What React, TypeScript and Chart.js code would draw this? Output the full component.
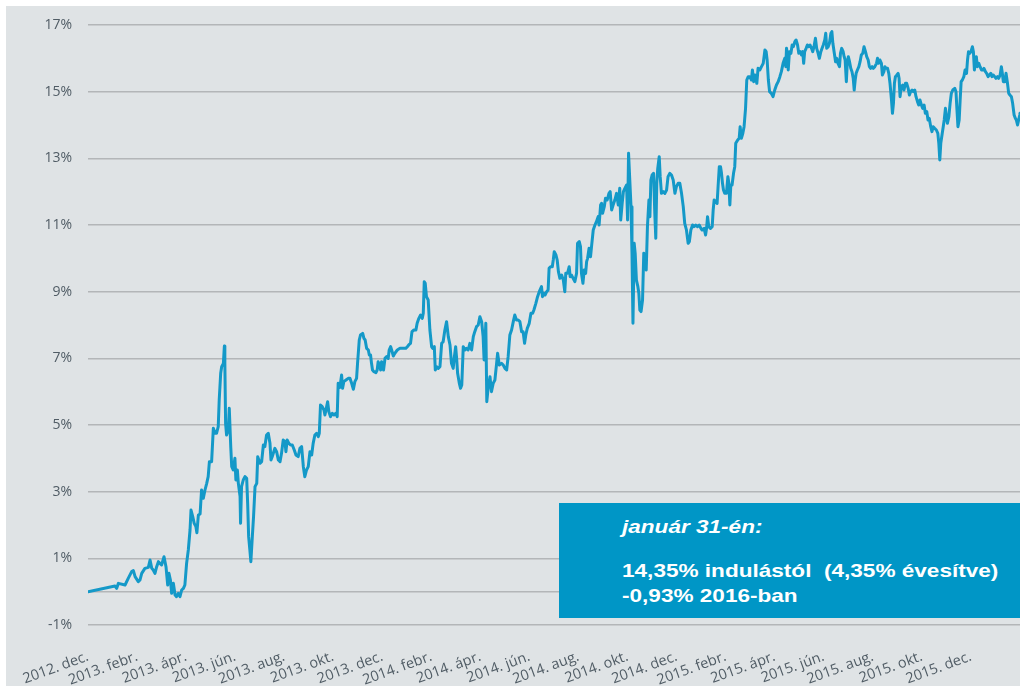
import { useEffect, useRef } from "react";
import { Chart, registerables } from "chart.js";

Chart.register(...registerables);

// x axis: months since the start of December 2012
const xTickLabels = [
  "2012. dec.", "2013. febr.", "2013. ápr.", "2013. jún.", "2013. aug.", "2013. okt.", "2013. dec.",
  "2014. febr.", "2014. ápr.", "2014. jún.", "2014. aug.", "2014. okt.", "2014. dec.",
  "2015. febr.", "2015. ápr.", "2015. jún.", "2015. aug.", "2015. okt.", "2015. dec.",
];
const xTickMonths = [0, 2, 4, 6, 8, 10, 12, 14, 16, 18, 20, 22, 24, 26, 28, 30, 32, 34, 36];
const yTicks = [-1, 1, 3, 5, 7, 9, 11, 13, 15, 17];

// [month since 2012-12-01, cumulative return %]
const returns2013: [number, number][] = [
  [0.0, 0.0], [1.1, 0.17], [1.17, 0.1], [1.24, 0.25], [1.51, 0.2], [1.64, 0.4], [1.78, 0.6], [1.85, 0.63],
  [1.92, 0.45], [2.05, 0.3], [2.12, 0.35], [2.19, 0.55], [2.32, 0.7], [2.46, 0.73], [2.53, 0.95], [2.6, 0.7],
  [2.66, 0.65], [2.73, 0.55], [2.8, 0.75], [2.87, 0.9], [2.93, 0.85], [3.0, 0.8], [3.1, 1.05], [3.18, 0.75],
  [3.25, 0.2], [3.3, 0.55], [3.36, 0.35], [3.41, -0.05], [3.48, 0.25], [3.55, -0.1], [3.61, -0.15], [3.68, -0.05],
  [3.75, -0.15], [3.82, 0.05], [3.89, 0.1], [3.95, 0.2], [4.02, 0.85], [4.09, 1.25], [4.16, 1.85], [4.2, 2.45],
  [4.27, 2.25], [4.33, 2.05], [4.4, 1.95], [4.44, 1.77], [4.5, 2.3], [4.57, 2.33], [4.63, 3.05], [4.7, 2.8],
  [4.77, 3.05], [4.84, 3.25], [4.9, 3.45], [4.95, 3.9], [5.04, 3.9], [5.11, 4.9], [5.18, 4.75], [5.24, 4.75],
  [5.31, 4.95], [5.35, 5.75], [5.41, 6.55], [5.45, 6.75], [5.52, 6.85], [5.56, 7.37], [5.58, 6.85], [5.61, 5.05],
  [5.65, 4.7], [5.72, 4.85], [5.76, 5.5], [5.82, 4.35], [5.86, 3.75], [5.92, 3.65], [5.99, 4.0], [6.03, 3.35],
  [6.09, 3.65], [6.13, 3.25], [6.2, 2.85], [6.22, 2.05], [6.26, 3.15], [6.33, 3.35], [6.4, 3.45], [6.47, 3.4],
  [6.51, 2.65], [6.55, 1.65], [6.6, 1.25], [6.64, 0.9], [6.7, 1.65], [6.75, 2.25], [6.81, 3.15], [6.88, 3.25],
  [6.92, 4.05], [7.01, 3.85], [7.08, 3.9], [7.15, 4.4], [7.21, 4.35], [7.28, 4.7], [7.35, 4.75], [7.42, 4.45],
  [7.46, 3.95], [7.51, 4.05], [7.62, 4.3], [7.69, 4.2], [7.76, 3.95], [7.83, 3.9], [7.89, 4.15], [7.96, 4.55],
  [8.03, 4.5], [8.07, 4.2], [8.12, 4.55], [8.19, 4.45], [8.26, 4.4], [8.33, 4.4], [8.41, 4.25], [8.48, 4.1],
  [8.57, 4.05], [8.64, 4.3], [8.71, 4.35], [8.78, 3.75], [8.84, 3.45], [8.91, 3.65], [8.98, 3.75], [9.05, 4.2],
  [9.12, 4.1], [9.18, 4.45], [9.25, 4.7], [9.32, 4.75], [9.39, 4.65], [9.43, 4.75], [9.48, 5.6], [9.55, 5.55],
  [9.62, 5.45], [9.66, 5.3], [9.73, 5.55], [9.77, 5.7], [9.82, 5.4], [9.89, 5.25], [9.96, 5.35], [10.03, 5.3],
  [10.1, 5.35], [10.16, 5.25], [10.2, 6.25], [10.27, 6.13], [10.34, 6.5], [10.38, 6.1], [10.43, 6.3], [10.52, 6.35],
  [10.61, 6.4], [10.68, 6.4], [10.75, 6.25], [10.82, 6.07], [10.88, 6.3], [10.95, 6.4], [10.99, 6.85], [11.06, 7.55],
  [11.11, 7.7], [11.2, 7.75], [11.25, 7.6], [11.3, 7.55], [11.36, 7.3], [11.43, 7.25], [11.47, 7.1], [11.52, 7.1],
  [11.56, 6.85], [11.6, 6.65], [11.66, 6.6], [11.74, 6.57], [11.79, 6.65], [11.83, 6.9], [11.88, 6.8], [11.93, 6.65],
  [11.97, 6.9], [12.01, 6.85], [12.05, 6.65], [12.11, 7.0], [12.17, 7.05], [12.24, 7.0], [12.28, 7.25], [12.34, 7.35],
  [12.38, 7.25], [12.45, 7.07], [12.51, 7.15], [12.61, 7.25], [12.72, 7.3], [12.85, 7.3], [12.96, 7.3],
];

const returns2014: [number, number][] = [
  [13.02, 7.35], [13.1, 7.42], [13.15, 7.45], [13.21, 7.8], [13.29, 7.85], [13.37, 7.85], [13.42, 8.05], [13.49, 8.2],
  [13.56, 8.3], [13.63, 8.2], [13.67, 8.35], [13.71, 9.3], [13.75, 9.25], [13.8, 8.85], [13.87, 8.75], [13.94, 7.85],
  [14.01, 7.35], [14.05, 7.3], [14.12, 7.35], [14.16, 6.65], [14.21, 6.75], [14.28, 6.7], [14.35, 6.75], [14.42, 7.45],
  [14.48, 7.5], [14.55, 7.85], [14.62, 8.1], [14.69, 7.65], [14.76, 7.4], [14.82, 6.85], [14.89, 6.7], [14.93, 7.0],
  [14.99, 7.35], [15.03, 7.0], [15.07, 6.55], [15.14, 6.25], [15.19, 6.1], [15.24, 6.2], [15.3, 7.35], [15.37, 7.25],
  [15.43, 7.3], [15.5, 7.25], [15.57, 7.45], [15.64, 7.25], [15.71, 7.65], [15.77, 7.8], [15.84, 7.95], [15.91, 8.0],
  [15.98, 8.25], [16.05, 8.1], [16.11, 7.65], [16.15, 6.95], [16.18, 7.35], [16.22, 8.05], [16.26, 5.7], [16.32, 6.15],
  [16.39, 6.45], [16.45, 6.0], [16.52, 6.25], [16.59, 6.35], [16.66, 6.85], [16.7, 7.15], [16.77, 6.8], [16.86, 6.85],
  [16.93, 6.8], [17.0, 6.7], [17.07, 6.65], [17.13, 7.05], [17.2, 7.7], [17.27, 7.85], [17.34, 8.1], [17.4, 8.3],
  [17.47, 8.15], [17.54, 8.15], [17.61, 8.1], [17.68, 7.8], [17.74, 7.8], [17.8, 7.45], [17.85, 7.7], [17.91, 7.9],
  [17.99, 8.05], [18.06, 8.35], [18.13, 8.35], [18.18, 8.45], [18.26, 8.65], [18.33, 8.85], [18.4, 9.0], [18.49, 9.15],
  [18.53, 8.85], [18.59, 8.95], [18.64, 8.9], [18.7, 9.0], [18.76, 9.05], [18.8, 9.7], [18.86, 9.75], [18.93, 9.75],
  [18.97, 9.95], [19.01, 10.2], [19.08, 10.1], [19.13, 9.95], [19.18, 9.6], [19.24, 9.4], [19.31, 9.5], [19.38, 9.35],
  [19.44, 9.0], [19.48, 9.55], [19.55, 9.55], [19.62, 9.75], [19.66, 9.45], [19.71, 9.5], [19.78, 9.4], [19.85, 9.3],
  [19.92, 9.55], [19.96, 10.45], [20.03, 10.5], [20.08, 10.35], [20.12, 9.55], [20.18, 9.25], [20.23, 9.65], [20.29, 9.55],
  [20.33, 9.9], [20.37, 10.0], [20.43, 10.3], [20.49, 10.05], [20.53, 10.35], [20.6, 10.85], [20.67, 11.0], [20.73, 11.1],
  [20.8, 11.25], [20.84, 11.0], [20.9, 11.6], [20.94, 11.65], [20.98, 11.35], [21.05, 11.55], [21.1, 11.8], [21.17, 11.75],
  [21.24, 11.95], [21.29, 12.0], [21.35, 11.45], [21.41, 11.6], [21.48, 11.75], [21.55, 11.95], [21.62, 11.6], [21.68, 12.1],
  [21.72, 11.15], [21.78, 11.65], [21.83, 12.0], [21.89, 12.1], [21.96, 12.2], [22.0, 11.15], [22.04, 13.15], [22.09, 12.35],
  [22.14, 11.55], [22.18, 10.15], [22.22, 8.05], [22.27, 10.45], [22.31, 10.15], [22.36, 9.35], [22.42, 9.15], [22.46, 8.95],
  [22.5, 8.45], [22.55, 8.4], [22.61, 8.75], [22.66, 10.15], [22.7, 9.95], [22.76, 9.65], [22.81, 10.95], [22.87, 11.75],
  [22.91, 11.25], [22.95, 12.35], [23.0, 12.5], [23.06, 12.55], [23.11, 11.35], [23.15, 10.6], [23.19, 12.25], [23.23, 12.7],
  [23.29, 13.05], [23.33, 12.45], [23.38, 11.95], [23.45, 12.0], [23.52, 11.95], [23.59, 12.05], [23.65, 12.45], [23.72, 12.55],
  [23.79, 12.5], [23.86, 12.35], [23.93, 11.95], [23.99, 12.15], [24.06, 12.25], [24.13, 12.25], [24.2, 11.95], [24.27, 11.55],
  [24.33, 11.05], [24.4, 10.85], [24.47, 10.45], [24.52, 10.5], [24.58, 10.85], [24.65, 11.0], [24.71, 10.95], [24.78, 11.0],
  [24.85, 10.95], [24.92, 11.0], [24.99, 10.9],
];

const returns2015: [number, number][] = [
  [25.04, 10.85], [25.12, 10.9], [25.18, 10.7], [25.22, 10.9], [25.26, 11.25], [25.31, 10.95], [25.38, 10.9], [25.45, 10.95],
  [25.49, 11.45], [25.53, 11.75], [25.58, 11.7], [25.65, 11.65], [25.69, 12.15], [25.74, 12.75], [25.79, 12.75], [25.83, 12.55],
  [25.87, 12.25], [25.91, 12.05], [25.96, 11.95], [26.03, 11.95], [26.09, 12.45], [26.13, 12.25], [26.17, 11.6], [26.21, 12.2],
  [26.26, 12.2], [26.32, 12.55], [26.37, 12.75], [26.41, 13.45], [26.49, 13.55], [26.55, 13.6], [26.59, 13.95], [26.64, 13.6],
  [26.7, 13.75], [26.75, 13.95], [26.81, 14.5], [26.86, 15.35], [26.92, 15.45], [26.98, 15.45], [27.05, 15.35], [27.09, 15.65],
  [27.14, 15.3], [27.19, 15.5], [27.27, 15.25], [27.32, 15.7], [27.39, 15.65], [27.46, 15.75], [27.53, 15.85], [27.6, 16.25],
  [27.65, 16.2], [27.69, 15.95], [27.74, 15.35], [27.79, 15.0], [27.86, 14.95], [27.93, 14.85], [28.0, 15.05], [28.07, 15.2],
  [28.14, 15.3], [28.21, 15.45], [28.27, 15.6], [28.34, 15.85], [28.41, 16.0], [28.45, 15.75], [28.48, 16.3], [28.51, 16.15],
  [28.55, 15.65], [28.6, 16.2], [28.66, 16.15], [28.71, 16.4], [28.76, 16.35], [28.82, 16.5], [28.87, 16.55], [28.93, 16.4],
  [28.98, 16.15], [29.04, 16.2], [29.09, 16.1], [29.14, 16.2], [29.18, 15.85], [29.22, 16.2], [29.28, 16.3], [29.33, 16.4],
  [29.39, 16.35], [29.44, 16.4], [29.5, 16.3], [29.55, 16.2], [29.6, 16.35], [29.66, 16.6], [29.71, 16.3], [29.77, 16.15],
  [29.82, 16.0], [29.88, 16.2], [29.93, 16.3], [29.98, 16.4], [30.04, 16.55], [30.08, 16.75], [30.12, 16.3], [30.18, 16.35],
  [30.23, 16.45], [30.29, 16.75], [30.33, 16.8], [30.37, 16.45], [30.42, 16.2], [30.48, 15.9], [30.53, 16.0], [30.58, 15.85],
  [30.64, 15.75], [30.68, 16.15], [30.73, 16.3], [30.79, 16.2], [30.83, 16.05], [30.87, 15.95], [30.92, 15.3], [30.96, 15.9],
  [31.0, 16.05], [31.05, 15.9], [31.1, 15.7], [31.15, 15.6], [31.2, 15.4], [31.24, 15.05], [31.28, 15.35], [31.32, 15.55],
  [31.37, 15.65], [31.43, 15.75], [31.48, 15.9], [31.53, 16.1], [31.59, 16.15], [31.64, 16.35], [31.7, 16.2], [31.75, 16.05],
  [31.81, 15.95], [31.86, 15.75], [31.91, 15.7], [31.97, 15.75], [32.02, 15.7], [32.08, 15.75], [32.15, 15.85], [32.19, 16.0],
  [32.24, 15.85], [32.29, 15.95], [32.35, 15.85], [32.39, 15.5], [32.45, 15.6], [32.49, 15.75], [32.54, 15.7], [32.6, 15.7],
  [32.65, 15.55], [32.7, 15.25], [32.76, 14.75], [32.8, 14.35], [32.84, 14.65], [32.88, 15.25], [32.92, 15.45], [32.98, 15.5],
  [33.03, 15.55], [33.07, 15.4], [33.11, 14.85], [33.16, 15.15], [33.22, 15.2], [33.27, 15.05], [33.33, 15.25], [33.38, 15.25],
  [33.44, 15.1], [33.49, 14.9], [33.54, 15.0], [33.6, 15.05], [33.65, 15.0], [33.71, 15.05], [33.76, 14.85], [33.82, 14.7],
  [33.87, 14.6], [33.92, 14.75], [33.98, 14.6], [34.03, 14.5], [34.09, 14.6], [34.14, 14.35], [34.2, 14.4], [34.25, 14.15],
  [34.3, 14.2], [34.36, 13.95], [34.41, 13.8], [34.46, 13.95], [34.52, 13.9], [34.59, 13.85], [34.65, 13.75], [34.69, 13.45],
  [34.73, 12.95], [34.77, 13.45], [34.83, 13.75], [34.87, 13.95], [34.91, 14.15], [34.96, 14.5], [35.0, 14.25], [35.04, 14.05],
  [35.1, 14.25], [35.15, 14.65], [35.2, 14.95], [35.26, 15.05], [35.34, 15.1], [35.39, 15.0], [35.43, 14.45], [35.47, 13.95],
  [35.52, 14.15], [35.56, 14.75], [35.6, 15.3], [35.65, 15.35], [35.71, 15.45], [35.76, 15.65], [35.82, 15.55], [35.86, 15.95],
  [35.9, 16.2], [35.95, 16.15], [36.0, 16.2], [36.06, 16.35], [36.1, 16.2], [36.14, 15.65], [36.18, 15.85], [36.22, 16.05],
  [36.26, 15.75], [36.32, 15.85], [36.37, 15.75], [36.43, 15.65], [36.48, 15.65], [36.53, 15.7], [36.59, 15.6], [36.64, 15.55],
  [36.7, 15.45], [36.75, 15.5], [36.81, 15.55], [36.86, 15.45], [36.91, 15.5], [36.97, 15.45],
];

const returns2016: [number, number][] = [
  [37.02, 15.4], [37.08, 15.45], [37.13, 15.4], [37.19, 15.5], [37.24, 15.75], [37.28, 15.55], [37.32, 15.3], [37.38, 15.3],
  [37.43, 15.55], [37.49, 15.25], [37.54, 14.95], [37.59, 14.9], [37.65, 14.85], [37.7, 14.65], [37.76, 14.3], [37.81, 14.2],
  [37.85, 14.15], [37.9, 14.0], [37.99, 14.3], [38.0, 14.35],
];

const boxTitle = "január 31-én:";
const boxLine1 = "14,35% indulástól  (4,35% évesítve)";
const boxLine2 = "-0,93% 2016-ban";

const TEXT_COLOR = "#505c65";
const GRID_COLOR = "#b3b6b8";
const LINE_COLOR = "#1499c8";

const zeroLine = {
  id: "zeroLine",
  beforeDatasetsDraw(chart: any) {
    const { ctx, chartArea, scales } = chart;
    const py = scales.y.getPixelForValue(0);
    ctx.save();
    ctx.strokeStyle = GRID_COLOR;
    ctx.lineWidth = 1.5;
    ctx.beginPath();
    ctx.moveTo(chartArea.left, py);
    ctx.lineTo(chartArea.right, py);
    ctx.stroke();
    ctx.restore();
  },
};

export default function App() {
  const canvasRef = useRef<HTMLCanvasElement | null>(null);

  useEffect(() => {
    if (!canvasRef.current) return;
    const points = [...returns2013, ...returns2014, ...returns2015, ...returns2016].map(([x, y]) => ({ x, y }));
    const chart = new Chart(canvasRef.current, {
      type: "line",
      data: {
        datasets: [
          {
            data: points,
            borderColor: LINE_COLOR,
            borderWidth: 3,
            borderJoinStyle: "round",
            borderCapStyle: "round",
            pointRadius: 0,
            tension: 0,
            fill: false,
          },
        ],
      },
      options: {
        animation: false,
        responsive: false,
        maintainAspectRatio: false,
        layout: { padding: { top: 19, right: 0, left: 0, bottom: 0 } },
        plugins: { legend: { display: false }, tooltip: { enabled: false } },
        scales: {
          x: {
            type: "linear",
            min: 0,
            max: 38,
            grid: { display: false },
            border: { display: false },
            afterBuildTicks: (s: any) => {
              s.ticks = xTickMonths.map((v) => ({ value: v }));
            },
            afterFit: (s: any) => {
              s.height = 61;
              s.paddingLeft = 0;
              s.paddingRight = 0;
            },
            ticks: {
              autoSkip: false,
              minRotation: 20,
              maxRotation: 20,
              padding: 15,
              color: TEXT_COLOR,
              font: { family: "'Open Sans', sans-serif", size: 14.5 },
              callback: (_v: any, i: number) => xTickLabels[i] ?? "",
            },
          },
          y: {
            min: -1,
            max: 17,
            afterBuildTicks: (s: any) => {
              s.ticks = yTicks.map((v) => ({ value: v }));
            },
            afterFit: (s: any) => {
              s.width = 82;
              s.paddingTop = 0;
              s.paddingBottom = 0;
            },
            grid: { color: GRID_COLOR, lineWidth: 1.5, drawTicks: false },
            border: { display: false },
            ticks: {
              padding: 16,
              color: TEXT_COLOR,
              font: { family: "'Open Sans', sans-serif", size: 14 },
              callback: (v: any) => `${v}%`,
            },
          },
        },
      },
      plugins: [zeroLine],
    });
    return () => chart.destroy();
  }, []);

  const lineStyle: React.CSSProperties = {
    position: "absolute",
    left: 63,
    whiteSpace: "pre",
    color: "#ffffff",
    fontFamily: "'Liberation Sans', Arial, sans-serif",
    fontWeight: 700,
    fontSize: 18.5,
    lineHeight: "21px",
    transform: "scaleX(1.22)",
    transformOrigin: "left center",
  };

  return (
    <div style={{ position: "absolute", left: 6, top: 6, width: 1014, height: 680, background: "#dfe3e5" }}>
      <canvas ref={canvasRef} width={1014} height={680} style={{ display: "block" }} />
      <div
        style={{
          position: "absolute",
          left: 553,
          top: 497,
          width: 461,
          height: 115,
          background: "#0096c6",
        }}
      >
        <div style={{ ...lineStyle, top: 13, fontStyle: "italic" }}>{boxTitle}</div>
        <div style={{ ...lineStyle, top: 57 }}>{boxLine1}</div>
        <div style={{ ...lineStyle, top: 82 }}>{boxLine2}</div>
      </div>
    </div>
  );
}
